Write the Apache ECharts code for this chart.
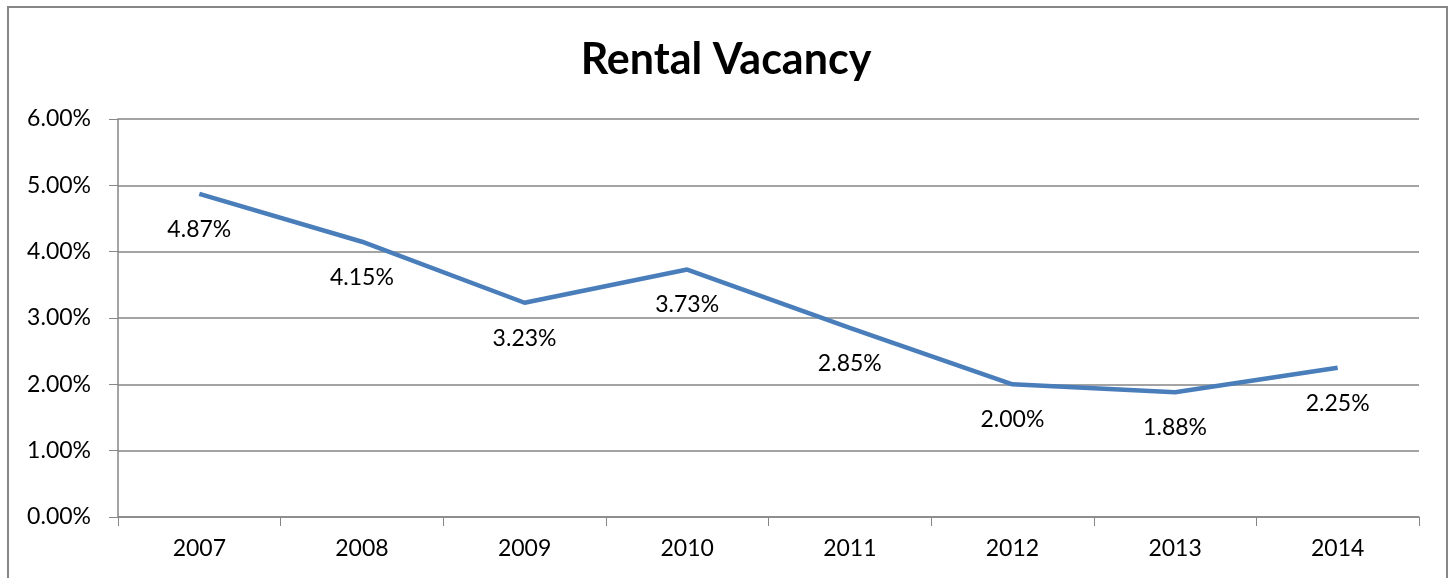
<!DOCTYPE html>
<html lang="en">
<head>
    <meta charset="UTF-8">
    <title>Rental Vacancy</title>
    <script src="https://cdn.jsdelivr.net/npm/echarts@6/dist/echarts.min.js"></script>
    <style>
        html, body { margin: 0; padding: 0; background: #fff; }
        #chart { width: 1452px; height: 578px; }
    </style>
</head>
<body>
    <div id="chart"></div>
    <script>
        // data
        const years = ['2007', '2008', '2009', '2010', '2011', '2012', '2013', '2014'];
        const vacancy = [4.87, 4.15, 3.23, 3.73, 2.85, 2.00, 1.88, 2.25];

        const font = 'Lato, "Open Sans", sans-serif';

        echarts.init(document.querySelector('#chart')).setOption({
            animation: false,
            title: {
                text: 'Rental Vacancy',
                left: 'center',
                top: 34,
                textStyle: { fontFamily: font, fontSize: 43, fontWeight: 'bold', color: '#000' }
            },
            graphic: [{
                type: 'rect',
                shape: { x: 8, y: 7, width: 1439, height: 620 },
                style: { fill: 'none', stroke: '#878787', lineWidth: 2 },
                silent: true
            }],
            grid: { left: 118, right: 33, top: 119, bottom: 61 },
            xAxis: {
                type: 'category',
                data: years,
                boundaryGap: true,
                axisLine: { lineStyle: { color: '#868686', width: 1.5 } },
                axisTick: { show: true, length: 9, alignWithLabel: false, lineStyle: { color: '#868686' } },
                axisLabel: { fontFamily: font, fontSize: 23, color: '#000', margin: 20 }
            },
            yAxis: {
                type: 'value',
                min: 0,
                max: 6,
                interval: 1,
                axisLine: { show: true, lineStyle: { color: '#868686', width: 1.5 } },
                axisTick: { show: true, length: 9, lineStyle: { color: '#868686' } },
                splitLine: { lineStyle: { color: '#868686', width: 1.5 } },
                axisLabel: {
                    fontFamily: font, fontSize: 23, color: '#000', margin: 27,
                    formatter: v => v.toFixed(2) + '%'
                }
            },
            series: [{
                type: 'line',
                data: vacancy,
                symbol: 'circle',
                symbolSize: 0,
                showSymbol: true,
                lineStyle: { color: '#4a7ebb', width: 4.5 },
                itemStyle: { color: '#4a7ebb' },
                label: {
                    show: true,
                    position: 'bottom',
                    distance: 24,
                    fontFamily: font,
                    fontSize: 23,
                    color: '#000',
                    formatter: p => p.value.toFixed(2) + '%'
                },
                labelLayout: { hideOverlap: false }
            }]
        });
    </script>
</body>
</html>
